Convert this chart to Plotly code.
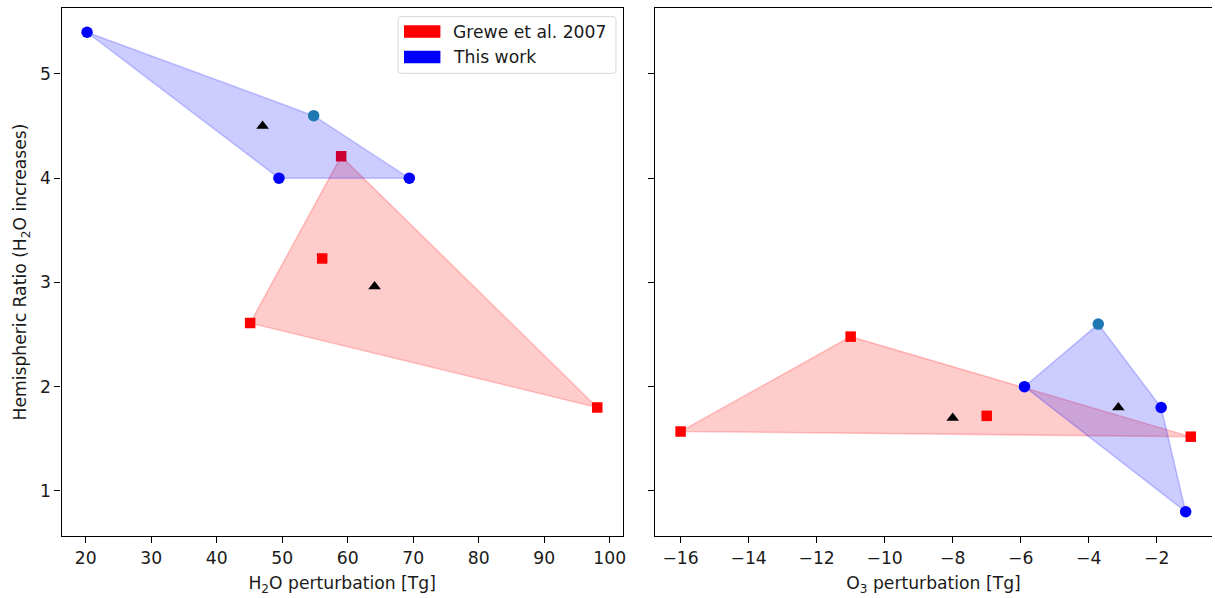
import plotly.graph_objects as go

# Hemispheric ratio of H2O increases vs. H2O and O3 perturbations
grewe_h2o = [59.0, 56.1, 45.1, 98.1]
grewe_ratio_h2o = [4.21, 3.23, 2.61, 1.80]
this_h2o = [20.2, 54.8, 49.5, 69.4]
this_ratio_h2o = [5.40, 4.60, 4.00, 4.00]
tri_h2o = [47.0, 64.1]
tri_ratio_h2o = [4.50, 2.96]

grewe_o3 = [-16.0, -11.0, -7.0, -1.0]
grewe_ratio_o3 = [1.57, 2.48, 1.72, 1.52]
this_o3 = [-5.89, -3.72, -1.87, -1.15]
this_ratio_o3 = [2.00, 2.60, 1.80, 0.80]
tri_o3 = [-8.0, -3.13]
tri_ratio_o3 = [1.70, 1.80]

this_colors = ["blue", "#1f77b4", "blue", "blue"]
legend_labels = ["Grewe et al. 2007", "This work"]
h2o_ticks = [20, 30, 40, 50, 60, 70, 80, 90, 100]
o3_ticks = [-16, -14, -12, -10, -8, -6, -4, -2]
ratio_ticks = [1, 2, 3, 4, 5]

W, H = 1215, 598
FONT = "DejaVu Sans"
FS = 17.2
LW = 1.4


def hull(xs, ys):
    pts = sorted(set(zip(xs, ys)))
    if len(pts) < 3:
        return pts

    def cross(o, a, b):
        return (a[0] - o[0]) * (b[1] - o[1]) - (a[1] - o[1]) * (b[0] - o[0])

    lower, upper = [], []
    for p in pts:
        while len(lower) >= 2 and cross(lower[-2], lower[-1], p) <= 0:
            lower.pop()
        lower.append(p)
    for p in reversed(pts):
        while len(upper) >= 2 and cross(upper[-2], upper[-1], p) <= 0:
            upper.pop()
        upper.append(p)
    return lower[:-1] + upper[:-1]


def padded(lo, hi, frac=0.05):
    span = hi - lo
    return [lo - frac * span, hi + frac * span]


fig = go.Figure()


def add_panel(xa, ya, gx, gy, tx, ty, mx, my):
    # Grewe et al. squares and their hull
    fig.add_trace(go.Scatter(x=gx, y=gy, mode="markers", xaxis=xa, yaxis=ya,
                             marker=dict(symbol="square", size=10.5, color="red"),
                             showlegend=False, hoverinfo="skip"))
    hg = hull(gx, gy)
    fig.add_trace(go.Scatter(x=[p[0] for p in hg] + [hg[0][0]],
                             y=[p[1] for p in hg] + [hg[0][1]],
                             mode="lines", fill="toself", xaxis=xa, yaxis=ya,
                             fillcolor="rgba(255,0,0,0.2)",
                             line=dict(color="rgba(255,0,0,0.2)", width=1.6),
                             showlegend=False, hoverinfo="skip"))
    # this work: hull then circles
    ht = hull(tx, ty)
    fig.add_trace(go.Scatter(x=[p[0] for p in ht] + [ht[0][0]],
                             y=[p[1] for p in ht] + [ht[0][1]],
                             mode="lines", fill="toself", xaxis=xa, yaxis=ya,
                             fillcolor="rgba(0,0,255,0.2)",
                             line=dict(color="rgba(0,0,255,0.2)", width=1.6),
                             showlegend=False, hoverinfo="skip"))
    fig.add_trace(go.Scatter(x=tx, y=ty, mode="markers", xaxis=xa, yaxis=ya,
                             marker=dict(symbol="circle", size=11.5, color=this_colors),
                             showlegend=False, hoverinfo="skip"))
    fig.add_trace(go.Scatter(x=mx, y=my, mode="markers", xaxis=xa, yaxis=ya,
                             marker=dict(symbol="triangle-up", size=11, color="black"),
                             showlegend=False, hoverinfo="skip"))


add_panel("x", "y", grewe_h2o, grewe_ratio_h2o, this_h2o, this_ratio_h2o,
          tri_h2o, tri_ratio_h2o)
add_panel("x2", "y2", grewe_o3, grewe_ratio_o3, this_o3, this_ratio_o3,
          tri_o3, tri_ratio_o3)

# axes extents in pixels
L1, R1 = 61.7, 624.3
L2 = 656.7
TOP, BOT = 8.3, 535.7
panel_w = R1 - L1

xr1 = padded(min(grewe_h2o + this_h2o + tri_h2o), max(grewe_h2o + this_h2o + tri_h2o))
xr2 = padded(min(grewe_o3 + this_o3 + tri_o3), max(grewe_o3 + this_o3 + tri_o3))
all_ratio = grewe_ratio_h2o + this_ratio_h2o + grewe_ratio_o3 + this_ratio_o3
yr = padded(min(all_ratio), max(all_ratio))

# right panel runs past the page edge; trim its range to the visible part
vis = (W - L2) / panel_w
xr2_vis = [xr2[0], xr2[0] + vis * (xr2[1] - xr2[0])]

axis_common = dict(showline=True, linecolor="black", linewidth=LW,
                   ticks="outside", ticklen=6, tickwidth=LW, tickcolor="black",
                   showgrid=False, zeroline=False,
                   tickfont=dict(family=FONT, size=FS, color="#1a1a1a"))

yd = [1 - BOT / H, 1 - TOP / H]
title_font = dict(family=FONT, size=FS, color="#1a1a1a")

fig.update_layout(
    width=W, height=H,
    margin=dict(l=0, r=0, t=0, b=0),
    paper_bgcolor="white", plot_bgcolor="white",
    showlegend=False,
    xaxis=dict(domain=[L1 / W, R1 / W], range=xr1, mirror=True,
               tickvals=h2o_ticks, ticktext=[str(v) for v in h2o_ticks],
               title=dict(text="H<sub>2</sub>O perturbation [Tg]", standoff=10,
                          font=title_font),
               anchor="y", **axis_common),
    yaxis=dict(domain=yd, range=yr, mirror=True,
               tickvals=ratio_ticks, ticktext=[str(v) for v in ratio_ticks],
               title=dict(text="Hemispheric Ratio (H<sub>2</sub>O increases)", standoff=8,
                          font=title_font),
               anchor="x", **axis_common),
    xaxis2=dict(domain=[L2 / W, 1.0], range=xr2_vis, mirror=True,
                tickvals=o3_ticks, ticktext=[str(v).replace("-", "\u2212") for v in o3_ticks],
                title=dict(text="O<sub>3</sub> perturbation [Tg]", standoff=10,
                           font=title_font),
                anchor="y2", **axis_common),
    yaxis2=dict(domain=yd, range=yr, matches="y", showticklabels=False,
                tickvals=ratio_ticks, anchor="x2", **axis_common),
)


# legend box with rounded corners
def px(x):
    return x / W


def py(y):
    return 1 - y / H


bx0, bx1, by0, by1, rr = 399, 617.5, 16.7, 73.3, 3
path = (f"M {px(bx0 + rr)},{py(by0)} L {px(bx1 - rr)},{py(by0)} "
        f"Q {px(bx1)},{py(by0)} {px(bx1)},{py(by0 + rr)} "
        f"L {px(bx1)},{py(by1 - rr)} Q {px(bx1)},{py(by1)} {px(bx1 - rr)},{py(by1)} "
        f"L {px(bx0 + rr)},{py(by1)} Q {px(bx0)},{py(by1)} {px(bx0)},{py(by1 - rr)} "
        f"L {px(bx0)},{py(by0 + rr)} Q {px(bx0)},{py(by0)} {px(bx0 + rr)},{py(by0)} Z")
fig.add_shape(type="path", path=path, xref="paper", yref="paper",
              fillcolor="rgba(255,255,255,0.8)", line=dict(color="#d6d6d6", width=1))

legend_colors = ["red", "blue"]
row_y = [31.5, 57.0]
for lab, col, cy in zip(legend_labels, legend_colors, row_y):
    fig.add_shape(type="rect", xref="paper", yref="paper",
                  x0=px(405), x1=px(441.5), y0=py(cy - 6.3), y1=py(cy + 6.3),
                  fillcolor=col, line=dict(width=0))
    fig.add_annotation(x=px(452), y=py(cy), xref="paper", yref="paper",
                       text=lab, showarrow=False, xanchor="left", yanchor="middle",
                       font=dict(family=FONT, size=FS, color="#1a1a1a"))

fig.write_html("out.html")
